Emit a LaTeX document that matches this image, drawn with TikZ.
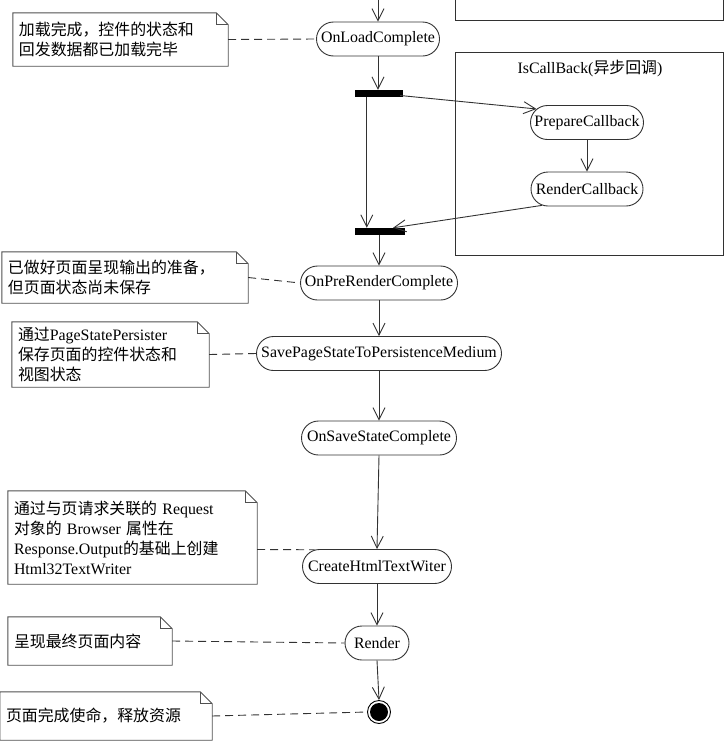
\documentclass[tikz,border=0pt]{standalone}
\usepackage{fontspec}
\setmainfont{Liberation Serif}
\newfontfamily\cjk{Noto Sans CJK SC}
\newcommand\zh[1]{{\cjk #1}}
\usetikzlibrary{arrows.meta,shapes.misc,calc}
\definecolor{lin}{RGB}{50,50,50}
\definecolor{notec}{RGB}{80,80,80}
\begin{document}
\begin{tikzpicture}[x=1pt,y=-1pt,
  every node/.style={font=\fontsize{15.9}{20}\selectfont},
  act/.style={rounded rectangle, draw=lin, line width=0.9pt, minimum height=34, inner xsep=4, inner ysep=0},
  notebox/.style={rectangle, draw=none, inner xsep=6, inner ysep=0, align=left, anchor=center},
  bar/.style={rectangle, fill=black, draw=none, minimum height=7, inner sep=0},
  arr/.style={draw=lin, line width=0.9pt, -{Straight Barb[length=12pt,width=12pt,line width=0.9pt]}},
  tie/.style={draw=lin, line width=0.9pt, dash pattern=on 8pt off 5pt},
  frame/.style={draw=lin, line width=0.9pt}
]
\useasboundingbox (0,0) rectangle (728,750);
% notes outline macro
\newcommand\noteoutline[1]{%
  \draw[notec, line width=0.9pt] (#1.north west) -- ($(#1.north east)+(-12,0)$) -- ($(#1.north east)+(0,12)$) -- (#1.south east) -- (#1.south west) -- cycle;
  \draw[notec, line width=0.7pt] ($(#1.north east)+(-12,0)$) -- ($(#1.north east)+(-12,12)$) -- ($(#1.north east)+(0,12)$);
}
\newcommand\mknote[6]{% name, x1, y1, x2, y2, text
  \node[notebox, minimum width=#4-#2, minimum height=#5-#3, text width=#4-#2-12] (#1) at ({(#2+#4)/2},{(#3+#5)/2}) {#6};
  \noteoutline{#1}
}

% top-right partial box
\begin{scope}
\clip (0,0) rectangle (728,750);
\draw[frame] (455,-30) rectangle (723,20.5);
\end{scope}

% IsCallBack frame
\node[frame, rectangle, minimum width=268, minimum height=203, inner sep=0] (cbframe) at (589,153.5) {};
\node (cbtitle) at (590,69) {IsCallBack(\zh{异步回调})};

% activities
\node[act, minimum width=131] (load) at (378,39) {OnLoadComplete};
\node[bar, minimum width=48] (bar1) at (379,93.5) {};
\node[act, minimum width=121] (prep) at (587,122.5) {PrepareCallback};
\node[act, minimum width=120] (rcb) at (587,189) {RenderCallback};
\node[bar, minimum width=50] (bar2) at (380,231.5) {};
\node[act, minimum width=165] (prer) at (379,283) {OnPreRenderComplete};
\node[act, minimum width=253] (save) at (379,353.5) {SavePageStateToPersistenceMedium};
\node[act, minimum width=163] (ssc) at (379,438) {OnSaveStateComplete};
\node[act, minimum width=157] (chtw) at (377,566.5) {CreateHtmlTextWiter};
\node[act, minimum width=72] (render) at (377,643) {Render};
\node[circle, draw=black, line width=0.9pt, minimum size=23, inner sep=0] (fin) at (379,712) {};
\fill[black] (fin.center) circle (9);

% top incoming
\coordinate (topin) at (378,0);
\draw[arr] (topin) -- (load.north);

% notes
\mknote{n1}{13}{13}{228}{66}{\zh{加载完成，控件的状态和}\\\zh{回发数据都已加载完毕}}
\mknote{n2}{2}{252}{248}{303}{\zh{已做好页面呈现输出的准备，}\\\zh{但页面状态尚未保存}}
\mknote{n3}{12}{322}{209}{387}{\zh{通过}PageStatePersister\\\zh{保存页面的控件状态和}\\\zh{视图状态}}
\mknote{n4}{8}{491}{257}{584}{\zh{通过与页请求关联的} Request\\\zh{对象的} Browser \zh{属性在}\\Response.Output\zh{的基础上创建}\\Html32TextWriter}
\mknote{n5}{8}{617}{172}{665}{\zh{呈现最终页面内容}}
\mknote{n6}{0}{692}{212}{740}{\zh{页面完成使命，释放资源}}

% flow
\draw[arr] (load.south) -- (bar1.north -| load.south);
\draw[arr] ($(bar1.east)+(-3,2)$) -- (prep.165);
\draw[arr] (prep.south) -- (rcb.north);
\draw[arr] ($(bar1.south west)+(12,0)$) -- ($(bar2.north west)+(12,0)$);
\draw[arr] (rcb.200) -- ($(bar2.north)+(13,0)$);
\draw[arr] ($(bar2.south)+(-1,0)$) -- (prer.north);
\draw[arr] (prer.south) -- (save.north);
\draw[arr] (save.south) -- (ssc.north);
\draw[arr] (ssc.south) -- (chtw.north);
\draw[arr] (chtw.south) -- (render.north);
\draw[arr] (render.south) -- (fin.north);

% note ties
\draw[tie] (n1.east) -- (load.west);
\draw[tie] (n2.east) -- (prer.west);
\draw[tie] (n3.east) -- (save.west);
\draw[tie] ($(n4.east)+(0,12)$) -- (chtw.165);
\draw[tie] (n5.east) -- (render.west);
\draw[tie] (n6.east) -- (fin.west);
\end{tikzpicture}
\end{document}
